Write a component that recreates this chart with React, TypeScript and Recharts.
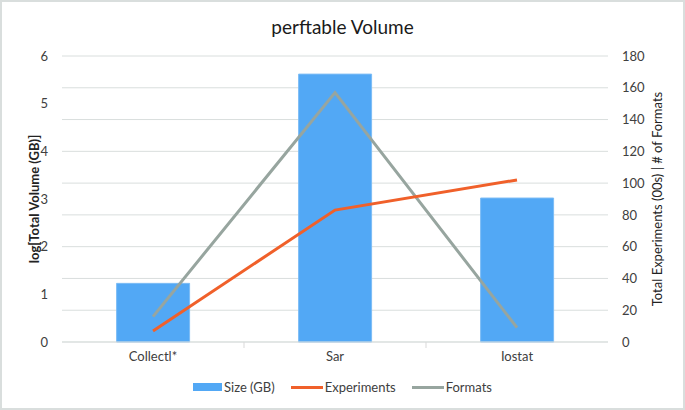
import React from 'react';
import { ComposedChart, Bar, Line, XAxis, YAxis, CartesianGrid, Legend } from 'recharts';

const categories = ['Collectl*', 'Sar', 'Iostat'];
const sizeGB = [1.23, 5.62, 3.02];
const experiments = [7, 83, 102];
const formats = [16, 157, 9];
const leftTicks = [0, 1, 2, 3, 4, 5, 6];
const rightTicks = [0, 20, 40, 60, 80, 100, 120, 140, 160, 180];
const legendOrder = ['Size (GB)', 'Experiments', 'Formats'];

const data = categories.map((c, i) => ({
  name: c,
  size: sizeGB[i],
  experiments: experiments[i],
  formats: formats[i],
}));

const FONT = 'Lato, "Open Sans", sans-serif';
const TEXT = '#404040';

const XTick = (props: any) => {
  const { x, y, payload, index } = props;
  const off = payload && payload.offset ? payload.offset : 0;
  return (
    <g>
      {index < categories.length - 1 && off ? (
        <line x1={x + off} x2={x + off} y1={y - 10} y2={y - 4} stroke="#d9d9d9" />
      ) : null}
      <text x={x} y={y} dy="0.71em" textAnchor="middle" fill={TEXT} fontSize={13} fontFamily={FONT}>
        {payload.value}
      </text>
    </g>
  );
};

const LegendContent = (props: any) => {
  const items = [...(props.payload || [])].sort(
    (a: any, b: any) => legendOrder.indexOf(a.value) - legendOrder.indexOf(b.value)
  );
  return (
    <div style={{ display: 'flex', justifyContent: 'center', alignItems: 'center', fontFamily: FONT, fontSize: 13, color: TEXT, height: 22 }}>
      {items.map((it: any, i: number) => (
        <div key={it.value} style={{ display: 'flex', alignItems: 'center', marginLeft: i === 0 ? 0 : 16 }}>
          {it.type === 'rect' ? (
            <div style={{ width: 29, height: 8, background: it.color, marginRight: 2 }} />
          ) : (
            <div style={{ width: 32, height: 3, background: it.color, marginRight: 2 }} />
          )}
          <span>{it.value}</span>
        </div>
      ))}
    </div>
  );
};

export default function App() {
  return (
    <div style={{ position: 'relative', width: 685, height: 410, background: '#fff', fontFamily: FONT }}>
      <style>{'body{margin:0;}'}</style>
      <div
        style={{
          position: 'absolute', left: 0, right: 0, top: 14, textAlign: 'center',
          fontSize: 19, color: '#1a1a1a', fontFamily: FONT, lineHeight: '26px',
        }}
      >
        perftable Volume
      </div>
      <ComposedChart
        width={685}
        height={410}
        data={data}
        margin={{ top: 56, right: 0, bottom: 12, left: 0 }}
        barCategoryGap="30%"
      >
        <CartesianGrid vertical={false} yAxisId="right" stroke="#d9dedd" />
        <XAxis
          dataKey="name"
          height={34}
          tickLine={false}
          tickSize={0}
          tickMargin={10}
          axisLine={{ stroke: '#d9dedd' }}
          tick={<XTick />}
          interval={0}
        />
        <YAxis
          yAxisId="left"
          orientation="left"
          width={62}
          domain={[0, 6]}
          ticks={leftTicks}
          axisLine={false}
          tickLine={false}
          tickSize={0}
          tickMargin={14}
          tick={{ fill: TEXT, fontSize: 13, fontFamily: FONT }}
          label={{
            value: 'log[Total Volume (GB)]', angle: -90, position: 'insideLeft', offset: 34,
            style: { textAnchor: 'middle', fill: '#222', fontSize: 13, fontWeight: 700, fontFamily: FONT },
          }}
        />
        <YAxis
          yAxisId="right"
          orientation="right"
          width={77}
          domain={[0, 180]}
          ticks={rightTicks}
          axisLine={false}
          tickLine={false}
          tickSize={0}
          tickMargin={14}
          tick={{ fill: TEXT, fontSize: 13, fontFamily: FONT, textAnchor: 'start' }}
          label={{
            value: 'Total Experiments (00s) | # of Formats', angle: -90, position: 'insideRight', offset: 28,
            style: { textAnchor: 'middle', fill: '#222', fontSize: 13, fontFamily: FONT },
          }}
        />
        <Legend verticalAlign="bottom" height={22} content={<LegendContent />} />
        <Bar
          yAxisId="left"
          dataKey="size"
          name="Size (GB)"
          fill="#52a8f5"
          stroke="#7cbcf5"
          strokeWidth={1}
          legendType="rect"
          isAnimationActive={false}
        />
        <Line
          yAxisId="right"
          dataKey="formats"
          name="Formats"
          stroke="#97a59f"
          strokeWidth={3}
          dot={false}
          legendType="plainline"
          isAnimationActive={false}
        />
        <Line
          yAxisId="right"
          dataKey="experiments"
          name="Experiments"
          stroke="#f0602a"
          strokeWidth={3}
          dot={false}
          legendType="plainline"
          isAnimationActive={false}
        />
      </ComposedChart>
      <div
        style={{
          position: 'absolute', inset: 0, border: '2px solid #d9dedd', boxSizing: 'border-box', pointerEvents: 'none',
        }}
      />
    </div>
  );
}
